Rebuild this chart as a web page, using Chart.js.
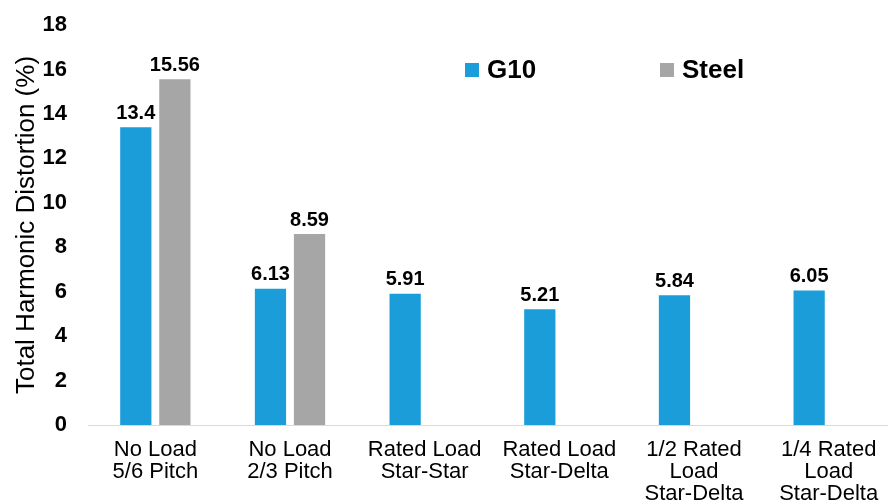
<!DOCTYPE html>
<html>
<head>
<meta charset="utf-8">
<script src="https://cdn.jsdelivr.net/npm/chart.js@4"></script>
<style>
  html, body { margin: 0; padding: 0; background: #fff; overflow: hidden; }
  canvas { display: block; }
</style>
</head>
<body>
<canvas id="thd" width="900" height="504"></canvas>
<script>
const categories = [
  ['No Load', '5/6 Pitch'],
  ['No Load', '2/3 Pitch'],
  ['Rated Load', 'Star-Star'],
  ['Rated Load', 'Star-Delta'],
  ['1/2 Rated', 'Load', 'Star-Delta'],
  ['1/4 Rated', 'Load', 'Star-Delta'],
];
const g10Values = [13.4, 6.13, 5.91, 5.21, 5.84, 6.05];
const steelValues = [15.56, 8.59, null, null, null, null];
const yTicks = [0, 2, 4, 6, 8, 10, 12, 14, 16, 18];

const FONT = "'Liberation Sans', Arial, sans-serif";
const BLUE = '#1a9dd8';
const GREY = '#a6a6a6';

// numbers printed above each bar
const valueLabels = {
  id: 'valueLabels',
  afterDatasetsDraw(chart) {
    const ctx = chart.ctx;
    ctx.save();
    ctx.font = 'bold 20px ' + FONT;
    ctx.fillStyle = '#000';
    ctx.textAlign = 'center';
    ctx.textBaseline = 'bottom';
    chart.data.datasets.forEach((ds, i) => {
      chart.getDatasetMeta(i).data.forEach((bar, j) => {
        const v = ds.data[j];
        if (v === null || v === undefined) return;
        ctx.fillText(String(v), bar.x, bar.y - 4);
      });
    });
    ctx.restore();
  }
};

// legend sits inside the plot area, top right
const insideLegend = {
  id: 'insideLegend',
  afterDraw(chart) {
    const ctx = chart.ctx;
    const spots = [465, 660];
    ctx.save();
    ctx.font = 'bold 26px ' + FONT;
    ctx.textBaseline = 'middle';
    ctx.textAlign = 'left';
    chart.data.datasets.forEach((ds, i) => {
      const x = spots[i];
      ctx.fillStyle = ds.backgroundColor;
      ctx.fillRect(x, 63, 14, 14);
      ctx.fillStyle = '#000';
      ctx.fillText(ds.label, x + 22, 71);
    });
    ctx.restore();
  }
};

new Chart(document.getElementById('thd').getContext('2d'), {
  type: 'bar',
  data: {
    labels: categories,
    datasets: [
      { label: 'G10', data: g10Values, backgroundColor: BLUE },
      { label: 'Steel', data: steelValues, backgroundColor: GREY },
    ]
  },
  plugins: [valueLabels, insideLegend],
  options: {
    responsive: false,
    animation: false,
    categoryPercentage: 0.58,
    barPercentage: 0.8,
    layout: { padding: { top: 25, right: 4, left: 0, bottom: 0 } },
    plugins: {
      legend: { display: false },
      tooltip: { enabled: false }
    },
    scales: {
      x: {
        grid: { display: false, drawTicks: false },
        border: { display: true, color: '#d9d9d9', width: 1 },
        ticks: {
          color: '#000',
          padding: 14,
          maxRotation: 0,
          autoSkip: false,
          font: { family: FONT, size: 22, lineHeight: 1.0 }
        },
        afterFit(scale) { scale.height = 79; }
      },
      y: {
        min: 0,
        max: 18,
        afterBuildTicks(scale) { scale.ticks = yTicks.map(v => ({ value: v })); },
        grid: { display: false, drawTicks: false },
        border: { display: false },
        ticks: {
          color: '#000',
          padding: 21,
          font: { family: FONT, size: 22, weight: 'bold' }
        },
        title: {
          display: true,
          text: 'Total Harmonic Distortion (%)',
          color: '#000',
          padding: { top: 11, bottom: 0 },
          font: { family: FONT, size: 26 }
        },
        afterFit(scale) {
          scale.width = 88;
          // tick padding should only push labels sideways, not shrink the plot
          scale.paddingTop = 12;
          scale.paddingBottom = 12;
        }
      }
    }
  }
});
</script>
</body>
</html>
